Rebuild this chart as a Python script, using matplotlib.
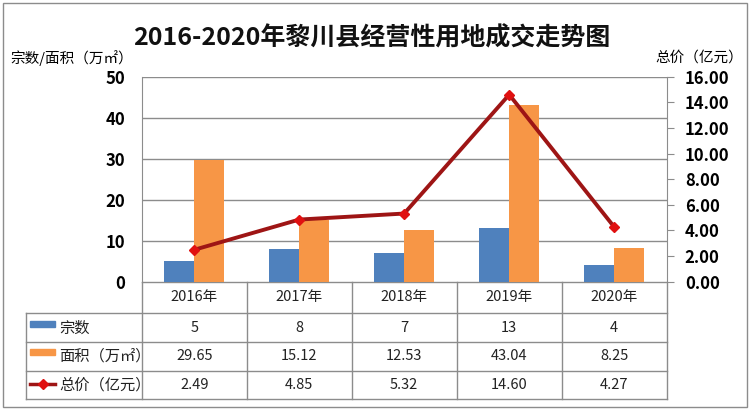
import matplotlib
matplotlib.use("Agg")
import matplotlib.pyplot as plt
from matplotlib.patches import Rectangle

plt.rcParams["font.family"] = ["Noto Sans CJK SC", "DejaVu Sans"]

years = ["2016年", "2017年", "2018年", "2019年", "2020年"]
counts = [5, 8, 7, 13, 4]
areas = [29.65, 15.12, 12.53, 43.04, 8.25]
prices = [2.49, 4.85, 5.32, 14.60, 4.27]

count_labels = ["5", "8", "7", "13", "4"]
area_labels = ["29.65", "15.12", "12.53", "43.04", "8.25"]
price_labels = ["2.49", "4.85", "5.32", "14.60", "4.27"]

BLUE = "#4F81BD"
ORANGE = "#F79646"
LINE = "#9E1515"
MARK = "#E01010"
GRID = "#8C8C8C"

W, H = 750, 412
fig = plt.figure(figsize=(7.5, 4.12), dpi=100)


def px(x0, y0, x1, y1):
    # pixel box (top-left origin) -> figure fraction rect
    return [x0 / W, 1 - y1 / H, (x1 - x0) / W, (y1 - y0) / H]


left, right, top, bottom = 141.7, 666.7, 76.7, 281.7
ax = fig.add_axes(px(left, top, right, bottom))
n = len(years)
xs = list(range(n))
bw = 0.286
ax.bar([x - bw / 2 for x in xs], counts, width=bw, color=BLUE, zorder=3)
ax.bar([x + bw / 2 for x in xs], areas, width=bw, color=ORANGE, zorder=3)
ax.set_xlim(-0.5, n - 0.5)
ax.set_ylim(0, 50)
ax.set_yticks(range(0, 51, 10))
ax.yaxis.grid(True, color=GRID, linewidth=1.0, zorder=0)
ax.set_xticks([])
ax.tick_params(axis="y", length=0, labelsize=12, pad=12)
for lab in ax.get_yticklabels():
    lab.set_fontweight("bold")
for s in ["top", "right", "bottom"]:
    ax.spines[s].set_visible(False)
ax.spines["left"].set_color(GRID)

ax2 = ax.twinx()
ax2.plot(xs, prices, color=LINE, linewidth=2.8, marker="D", markersize=5,
         markerfacecolor=MARK, markeredgecolor=MARK, zorder=5)
ax2.set_ylim(0, 16)
ax2.set_yticks(range(0, 17, 2))
ax2.set_yticklabels([f"{v:.2f}" for v in range(0, 17, 2)])
ax2.tick_params(axis="y", length=5, color=GRID, labelsize=12, pad=8)
for lab in ax2.get_yticklabels():
    lab.set_fontweight("bold")
for s in ["top", "left", "bottom"]:
    ax2.spines[s].set_visible(False)
ax2.spines["right"].set_color(GRID)

# data table below the plot
tab_left = 26.0
cat_w = (right - left) / n
x_min = -0.5 - (left - tab_left) / cat_w
row_tops = [281.7, 313.3, 342.3, 370.7, 399.3]
tab = fig.add_axes(px(tab_left, row_tops[0], right, row_tops[-1]))
tab.set_xlim(x_min, n - 0.5)
tab.set_ylim(row_tops[-1], row_tops[0])
tab.axis("off")

lc = "#8C8C8C"
lw = 1.0
tab.plot([-0.5, n - 0.5], [row_tops[0]] * 2, color=lc, lw=lw)
for y in row_tops[1:]:
    tab.plot([x_min, n - 0.5], [y, y], color=lc, lw=lw, clip_on=False)
for i in range(n + 1):
    tab.plot([i - 0.5] * 2, [row_tops[0], row_tops[-1]], color=lc, lw=lw, clip_on=False)
tab.plot([x_min] * 2, [row_tops[1], row_tops[-1]], color=lc, lw=lw, clip_on=False)

rows = [years, count_labels, area_labels, price_labels]
for r, vals in enumerate(rows):
    yc = (row_tops[r] + row_tops[r + 1]) / 2
    for i, v in enumerate(vals):
        tab.text(i, yc, v, ha="center", va="center", fontsize=10.5, color="#222222")

# row headers with legend keys
key_x0 = x_min + 4 / cat_w
key_x1 = x_min + 29 / cat_w
text_x = x_min + 33 / cat_w
heads = ["宗数", "面积（万㎡）", "总价（亿元）"]
for r, name in enumerate(heads, start=1):
    yc = (row_tops[r] + row_tops[r + 1]) / 2
    if r == 1:
        tab.add_patch(Rectangle((key_x0, yc - 7), key_x1 - key_x0, 6, color=BLUE, clip_on=False))
    elif r == 2:
        tab.add_patch(Rectangle((key_x0, yc - 7), key_x1 - key_x0, 6, color=ORANGE, clip_on=False))
    else:
        tab.plot([key_x0, key_x1], [yc - 1, yc - 1], color=LINE, lw=2.5, clip_on=False)
        tab.plot([(key_x0 + key_x1) / 2], [yc - 1], marker="D", markersize=5,
                 color=MARK, clip_on=False)
    tab.text(text_x, yc, name, ha="left", va="center", fontsize=11, color="#222222")

# titles and axis labels
fig.text(372 / W, 1 - 38 / H, "2016-2020年黎川县经营性用地成交走势图", ha="center", va="center",
         fontsize=18, fontweight="bold", color="#111111")
fig.text(10 / W, 1 - 58 / H, "宗数/面积（万㎡）", ha="left", va="center", fontsize=10.5)
fig.text(743 / W, 1 - 58 / H, "总价（亿元）", ha="right", va="center", fontsize=10.5)

# outer frame
fig.patches.append(Rectangle((3 / W, 1 - 407 / H), 744 / W, 404 / H, transform=fig.transFigure,
                             fill=False, edgecolor="#8C8C8C", linewidth=1.0))

fig.savefig("out.png", dpi=100)
plt.close(fig)
